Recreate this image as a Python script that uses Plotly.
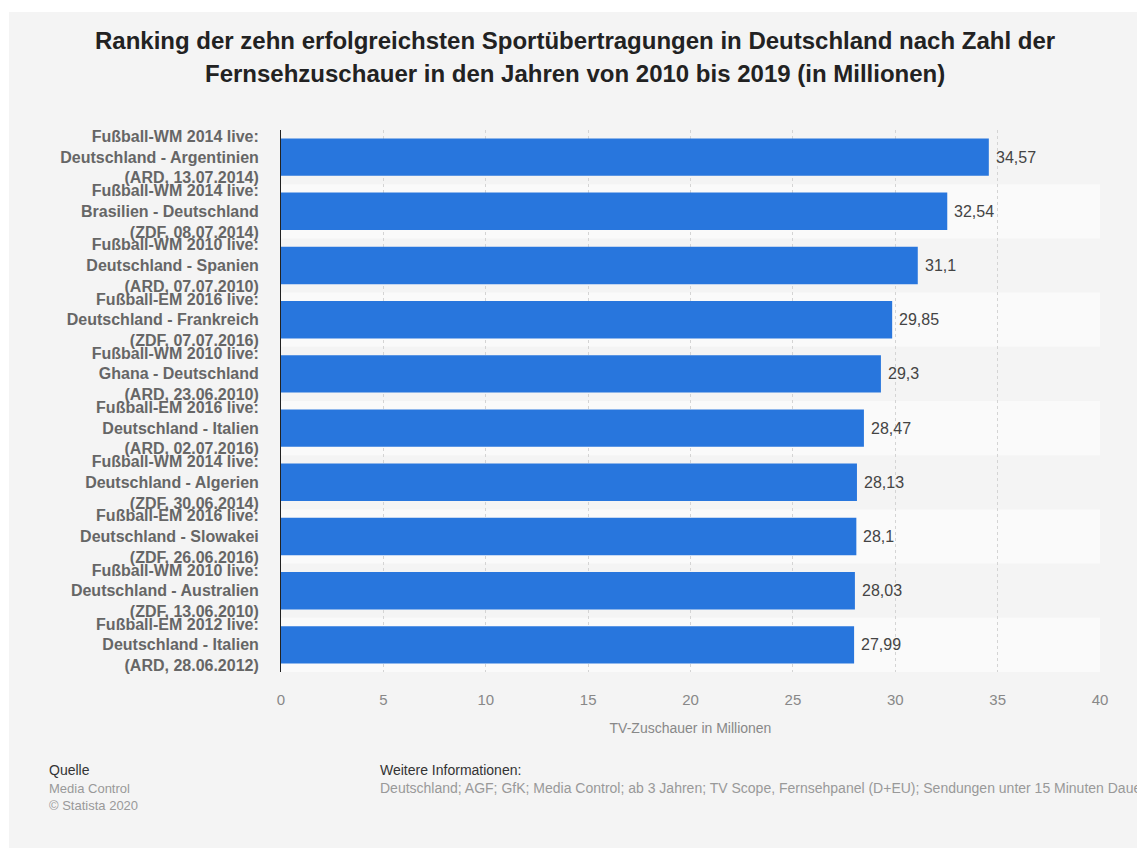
import plotly.graph_objects as go

categories = [
    "Fußball-WM 2014 live:<br>Deutschland - Argentinien<br>(ARD, 13.07.2014)",
    "Fußball-WM 2014 live:<br>Brasilien - Deutschland<br>(ZDF, 08.07.2014)",
    "Fußball-WM 2010 live:<br>Deutschland - Spanien<br>(ARD, 07.07.2010)",
    "Fußball-EM 2016 live:<br>Deutschland - Frankreich<br>(ZDF, 07.07.2016)",
    "Fußball-WM 2010 live:<br>Ghana - Deutschland<br>(ARD, 23.06.2010)",
    "Fußball-EM 2016 live:<br>Deutschland - Italien<br>(ARD, 02.07.2016)",
    "Fußball-WM 2014 live:<br>Deutschland - Algerien<br>(ZDF, 30.06.2014)",
    "Fußball-EM 2016 live:<br>Deutschland - Slowakei<br>(ZDF, 26.06.2016)",
    "Fußball-WM 2010 live:<br>Deutschland - Australien<br>(ZDF, 13.06.2010)",
    "Fußball-EM 2012 live:<br>Deutschland - Italien<br>(ARD, 28.06.2012)",
]
values = [34.57, 32.54, 31.1, 29.85, 29.3, 28.47, 28.13, 28.1, 28.03, 27.99]
value_labels = ["34,57", "32,54", "31,1", "29,85", "29,3", "28,47", "28,13", "28,1", "28,03", "27,99"]
x_ticks = [0, 5, 10, 15, 20, 25, 30, 35, 40]

W, H = 1137, 848
ML, MR, MT, MB = 281, 37, 130, 176
PW, PH = W - ML - MR, H - MT - MB

def px(x):
    return (x - ML) / PW

def py(y):
    return (H - MB - y) / PH

FONT = "Liberation Sans, Arial, sans-serif"

fig = go.Figure()
fig.add_trace(go.Bar(
    y=categories, x=values, orientation="h",
    marker=dict(color="#2876dd", line=dict(width=0)),
    hoverinfo="skip",
))

shapes = []
# white border on top/left
shapes.append(dict(type="rect", xref="paper", yref="paper", x0=px(0), x1=px(9), y0=py(0), y1=py(H),
                   fillcolor="white", line=dict(width=0), layer="below"))
shapes.append(dict(type="rect", xref="paper", yref="paper", x0=px(0), x1=px(W), y0=py(0), y1=py(12),
                   fillcolor="white", line=dict(width=0), layer="below"))
# alternating row bands
for i in range(len(categories)):
    if i % 2 == 1:
        shapes.append(dict(type="rect", xref="x domain", yref="y", x0=0, x1=1, y0=i - 0.5, y1=i + 0.5,
                           fillcolor="#fafafa", line=dict(width=0), layer="below"))

annotations = []
for c, v, t in zip(categories, values, value_labels):
    annotations.append(dict(x=v, y=c, xref="x", yref="y", text=t, showarrow=False,
                            xanchor="left", xshift=5, font=dict(family=FONT, size=16, color="#444")))

annotations += [
    dict(x=px(575), y=py(41), xref="paper", yref="paper", xanchor="center", yanchor="middle", showarrow=False,
         text="<b>Ranking der zehn erfolgreichsten Sportübertragungen in Deutschland nach Zahl der</b>",
         font=dict(family=FONT, size=24, color="#222")),
    dict(x=px(575), y=py(73), xref="paper", yref="paper", xanchor="center", yanchor="middle", showarrow=False,
         text="<b>Fernsehzuschauer in den Jahren von 2010 bis 2019 (in Millionen)</b>",
         font=dict(family=FONT, size=24, color="#222")),
    dict(x=px(47), y=py(770), xref="paper", yref="paper", xanchor="left", yanchor="middle", showarrow=False,
         text="Quelle", font=dict(family=FONT, size=14, color="#333")),
    dict(x=px(47), y=py(788), xref="paper", yref="paper", xanchor="left", yanchor="middle", showarrow=False,
         text="Media Control", font=dict(family=FONT, size=13, color="#999")),
    dict(x=px(47), y=py(805), xref="paper", yref="paper", xanchor="left", yanchor="middle", showarrow=False,
         text="© Statista 2020", font=dict(family=FONT, size=13, color="#999")),
    dict(x=px(378), y=py(770), xref="paper", yref="paper", xanchor="left", yanchor="middle", showarrow=False,
         text="Weitere Informationen:", font=dict(family=FONT, size=14, color="#333")),
    dict(x=px(378), y=py(788), xref="paper", yref="paper", xanchor="left", yanchor="middle", showarrow=False,
         text="Deutschland; AGF; GfK; Media Control; ab 3 Jahren; TV Scope, Fernsehpanel (D+EU); Sendungen unter 15 Minuten Dauer",
         font=dict(family=FONT, size=14, color="#999")),
]

fig.update_layout(
    width=W, height=H,
    margin=dict(l=ML, r=MR, t=MT, b=MB, pad=0),
    paper_bgcolor="#f4f4f4", plot_bgcolor="#f4f4f4",
    separators=",.",
    bargap=0.31,
    showlegend=False,
    shapes=shapes,
    annotations=annotations,
    xaxis=dict(
        range=[0, 40], tickvals=x_ticks, showgrid=True, gridcolor="#d4d4d4", griddash="dot", gridwidth=1,
        zeroline=False, showline=False, ticks="outside", ticklen=14, tickcolor="rgba(0,0,0,0)", fixedrange=True,
        tickfont=dict(family=FONT, size=15, color="#888"),
        title=dict(text="TV-Zuschauer in Millionen", font=dict(family=FONT, size=14, color="#888"), standoff=16),
    ),
    yaxis=dict(
        categoryorder="array", categoryarray=categories, autorange="reversed",
        showgrid=False, zeroline=False, showline=True, linecolor="#222", linewidth=1,
        ticks="outside", ticklen=18, tickcolor="rgba(0,0,0,0)",
        tickfont=dict(family=FONT, size=16, color="#666", weight="bold"),
        fixedrange=True,
    ),
)

fig.write_html("out.html")
